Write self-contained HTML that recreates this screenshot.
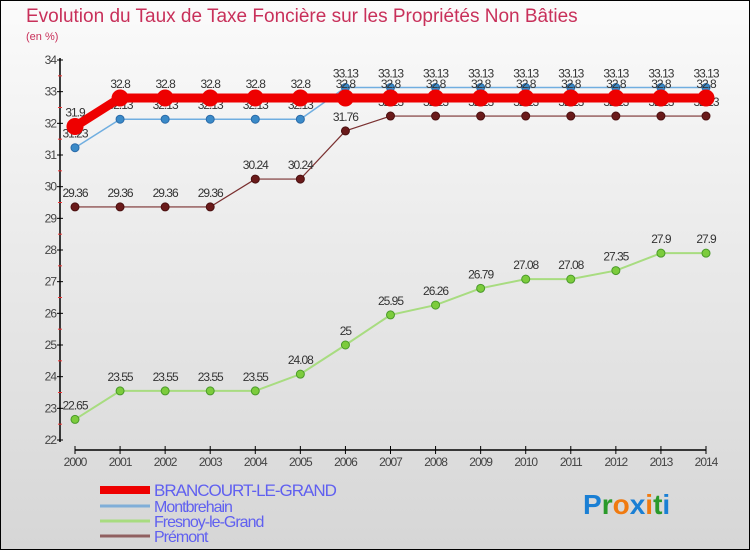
<!DOCTYPE html>
<html><head><meta charset="utf-8"><style>
body{margin:0;width:750px;height:550px;overflow:hidden;font-family:"Liberation Sans",sans-serif}
</style></head><body>
<svg id="c" width="750" height="550" xmlns="http://www.w3.org/2000/svg">
<defs><linearGradient id="bg" x1="0" y1="0" x2="0" y2="1"><stop offset="0" stop-color="#fbfbfb"/><stop offset="1" stop-color="#d6d6d6"/></linearGradient></defs>
<rect x="0.5" y="0.5" width="749" height="549" fill="url(#bg)" stroke="#000"/>
<text x="26" y="22" font-size="19" fill="#c8305a">Evolution du Taux de Taxe Foncière sur les Propriétés Non Bâties</text>
<text x="26" y="40" font-size="11" fill="#c8305a">(en %)</text>
<g id="axes"></g><g id="series"></g><g id="legend"></g>
<text x="583" y="514" font-size="28" font-weight="bold"><tspan fill="#1a7fd4">P</tspan><tspan fill="#2a9a2a">r</tspan><tspan fill="#f07a10">o</tspan><tspan fill="#1a7fd4">x</tspan><tspan fill="#f07a10">i</tspan><tspan fill="#2a9a2a">t</tspan><tspan fill="#1a7fd4">i</tspan></text>
</svg>
<script>
const years=[2000,2001,2002,2003,2004,2005,2006,2007,2008,2009,2010,2011,2012,2013,2014];
const yTicks=[22,23,24,25,26,27,28,29,30,31,32,33,34];
const brancourt=[31.9,32.8,32.8,32.8,32.8,32.8,32.8,32.8,32.8,32.8,32.8,32.8,32.8,32.8,32.8];
const montbrehain=[31.23,32.13,32.13,32.13,32.13,32.13,33.13,33.13,33.13,33.13,33.13,33.13,33.13,33.13,33.13];
const fresnoy=[22.65,23.55,23.55,23.55,23.55,24.08,25,25.95,26.26,26.79,27.08,27.08,27.35,27.9,27.9];
const premont=[29.36,29.36,29.36,29.36,30.24,30.24,31.76,32.23,32.23,32.23,32.23,32.23,32.23,32.23,32.23];
const NS="http://www.w3.org/2000/svg";
const X=i=>75+i*(706-75)/(years.length-1);
const Y=v=>440-(v-22)*(380/12);
function mk(tag,attrs,parent,txt){const e=document.createElementNS(NS,tag);for(const k in attrs)e.setAttribute(k,attrs[k]);if(txt!==undefined)e.textContent=txt;parent.appendChild(e);return e;}
const ax=document.getElementById('axes');
let l=mk('line',{x1:60,y1:58,x2:60,y2:442,stroke:'#000','stroke-width':1.5},ax);


l=mk('line',{x1:75,y1:450,x2:706,y2:450,stroke:'#000','stroke-width':1.5},ax);


yTicks.forEach((v,i)=>{
  mk('line',{x1:57,y1:Y(v),x2:63,y2:Y(v),stroke:'#000'},ax);
  if(i<yTicks.length-1)mk('line',{x1:58,y1:Y(v+0.5),x2:62,y2:Y(v+0.5),stroke:'#e33'},ax);
  const t=mk('text',{x:56,y:Y(v)+4,'font-size':12,'text-anchor':'end',fill:'#444','letter-spacing':'-1'},ax,String(v));
  
  
});
years.forEach((yr,i)=>{
  mk('line',{x1:X(i),y1:446,x2:X(i),y2:454,stroke:'#000'},ax);
  const t=mk('text',{x:X(i),y:466,'font-size':12,'text-anchor':'middle',fill:'#444','letter-spacing':'-1'},ax,String(yr));
  
  
});
const sg=document.getElementById('series');
function series(name,data,color,w,r,fill,stroke){
  const g=mk('g',{},sg);
  
  
  mk('polyline',{points:data.map((v,i)=>X(i)+','+Y(v)).join(' '),fill:'none',stroke:color,'stroke-width':w},g);
  data.forEach((v,i)=>{
    const c=mk('circle',{cx:X(i),cy:Y(v),r:r,fill:fill,stroke:stroke,'stroke-width':1},g);
    
    
    const t=mk('text',{x:X(i),y:Y(v)-10,'font-size':12,'text-anchor':'middle',fill:'#333','letter-spacing':'-1'},g,String(v));
    
    
  });
}
series('premont',premont,'#7a3030',1.2,4,'#6a1a1a','#4a1010');
series('fresnoy',fresnoy,'#a8dc80',2,4,'#7ccc3c','#4a9a2a');
series('montbrehain',montbrehain,'#70aee0',1.5,4,'#3a8ac8','#2a6aa8');
series('brancourt',brancourt,'#ee0000',9,8,'#ee0000','#ee0000');
const lg=document.getElementById('legend');
const items=[['BRANCOURT-LE-GRAND','#ee0000',8,496,17],['Montbrehain','#80aed8',3,512,16],['Fresnoy-le-Grand','#a8dc80',3,527,16],['Prémont','#906060',3,542,16]];
items.forEach(it=>{
  const g=mk('g',{},lg);
  
  
  mk('rect',{x:100,y:it[3]-6-it[2]/2,width:50,height:it[2],fill:it[1]},g);
  mk('text',{x:154,y:it[3],'font-size':it[4],fill:'#6060f0','letter-spacing':'-1'},g,it[0]);
});
</script>
</body></html>
